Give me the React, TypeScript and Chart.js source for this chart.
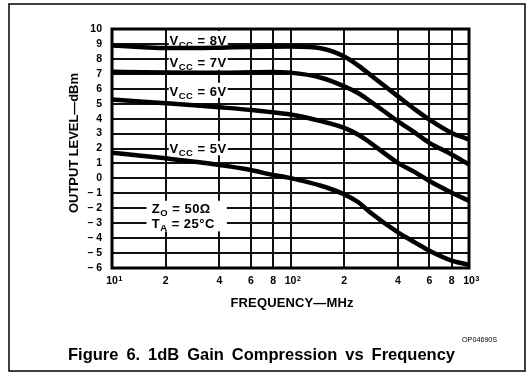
import React, { useEffect, useRef } from 'react';
import { Chart, registerables } from 'chart.js';

Chart.register(...registerables);

// ---- data ----
const freqMHz = [10, 15, 20, 30, 40, 60, 77, 100, 150, 200, 240, 280, 400, 500, 600, 800, 1000];
const vcc8 = [8.9, 8.78, 8.72, 8.72, 8.75, 8.8, 8.82, 8.83, 8.7, 8.16, 7.55, 6.93, 5.49, 4.6, 3.93, 3.04, 2.6];
const vcc7 = [7.14, 7.1, 7.08, 7.07, 7.07, 7.1, 7.12, 7.08, 6.72, 6.16, 5.7, 5.16, 3.82, 3.05, 2.38, 1.6, 0.93];
const vcc6 = [5.28, 5.13, 5.03, 4.88, 4.76, 4.58, 4.44, 4.28, 3.82, 3.38, 2.92, 2.38, 1.04, 0.4, -0.18, -0.96, -1.5];
const vcc5 = [1.72, 1.5, 1.34, 1.1, 0.9, 0.56, 0.27, 0.02, -0.51, -1.07, -1.6, -2.29, -3.62, -4.3, -4.84, -5.5, -5.78];

const xTickValues = [10, 20, 40, 60, 80, 100, 200, 400, 600, 800, 1000];
const xTickLabels = ['10', '2', '4', '6', '8', '10', '2', '4', '6', '8', '10'];
const xTickExponents = ['1', '', '', '', '', '2', '', '', '', '', '3'];
const yMin = -6;
const yMax = 10;

const xTitle = 'FREQUENCY\u2014MHz';
const yTitle = 'OUTPUT LEVEL\u2014dBm';
const caption = 'Figure 6. 1dB Gain Compression vs Frequency';
const partNo = 'OP04690S';

// in-plot annotations (frequency, level)
const curveLabels = [
  { f: 21, v: 9.26, main: 'V', sub: 'CC', rest: ' = 8V' },
  { f: 21, v: 7.78, main: 'V', sub: 'CC', rest: ' = 7V' },
  { f: 21, v: 5.85, main: 'V', sub: 'CC', rest: ' = 6V' },
  { f: 21, v: 2.0, main: 'V', sub: 'CC', rest: ' = 5V' },
  { f: 16.7, v: -2.0, main: 'Z', sub: 'O', rest: ' = 50\u03A9' },
  { f: 16.7, v: -3.0, main: 'T', sub: 'A', rest: ' = 25\u00B0C' },
];
const maskBoxes = [
  { f0: 20.8, f1: 44.5, v0: 9.87, v1: 7.27 },
  { f0: 20.8, f1: 44.5, v0: 6.4, v1: 5.4 },
  { f0: 20.8, f1: 44.5, v0: 2.5, v1: 1.55 },
  { f0: 15.6, f1: 44, v0: -1.5, v1: -3.55 },
];

const FONT = '"Liberation Sans", Arial, Helvetica, sans-serif';
const TICK_FONT_SIZE = 10.5;

function drawSubLabel(ctx: CanvasRenderingContext2D, x: number, yc: number, main: string, sub: string, rest: string) {
  const size = 13;
  const subSize = 9.5;
  ctx.save();
  ctx.fillStyle = '#000';
  ctx.textAlign = 'left';
  ctx.textBaseline = 'alphabetic';
  (ctx as any).letterSpacing = '0.5px';
  const base = yc + size * 0.36;
  ctx.font = `bold ${size}px ${FONT}`;
  ctx.fillText(main, x, base);
  let cx = x + ctx.measureText(main).width;
  ctx.font = `bold ${subSize}px ${FONT}`;
  ctx.fillText(sub, cx, base + 3);
  cx += ctx.measureText(sub).width;
  ctx.font = `bold ${size}px ${FONT}`;
  ctx.fillText(rest, cx, base);
  ctx.restore();
}

function fitLetters(ctx: CanvasRenderingContext2D, text: string, x: number, y: number, target: number) {
  (ctx as any).letterSpacing = '0px';
  const w = ctx.measureText(text).width;
  const sp = (target - w) / Math.max(1, text.length - 1);
  (ctx as any).letterSpacing = sp + 'px';
  ctx.fillText(text, x, y);
  (ctx as any).letterSpacing = '0px';
}

function fitWords(ctx: CanvasRenderingContext2D, text: string, x: number, y: number, target: number) {
  (ctx as any).wordSpacing = '0px';
  const w = ctx.measureText(text).width;
  const n = text.split(' ').length - 1;
  const sp = (target - w) / Math.max(1, n);
  (ctx as any).wordSpacing = sp + 'px';
  ctx.fillText(text, x, y);
  (ctx as any).wordSpacing = '0px';
}

const decorPlugin = {
  id: 'decor',
  beforeDatasetsDraw(chart: any) {
    const { ctx, scales } = chart;
    const xs = scales.x;
    const ys = scales.y;
    ctx.save();
    ctx.fillStyle = '#fff';
    for (const b of maskBoxes) {
      const x0 = xs.getPixelForValue(b.f0);
      const x1 = xs.getPixelForValue(b.f1);
      const y0 = ys.getPixelForValue(b.v0);
      const y1 = ys.getPixelForValue(b.v1);
      ctx.fillRect(x0, y0, x1 - x0, y1 - y0);
    }
    ctx.restore();
  },
  afterDatasetsDraw(chart: any) {
    const { ctx, scales, chartArea } = chart;
    const xs = scales.x;
    const ys = scales.y;
    ctx.save();
    ctx.strokeStyle = '#000';
    ctx.lineWidth = 3;
    ctx.strokeRect(chartArea.left, chartArea.top, chartArea.right - chartArea.left, chartArea.bottom - chartArea.top);
    ctx.restore();
    for (const l of curveLabels) {
      drawSubLabel(ctx, xs.getPixelForValue(l.f), ys.getPixelForValue(l.v), l.main, l.sub, l.rest);
    }
  },
  afterDraw(chart: any) {
    const { ctx, chartArea, scales } = chart;
    const xs = scales.x;
    ctx.save();
    ctx.fillStyle = '#000';
    // decade exponents on the x tick labels
    ctx.font = `bold ${TICK_FONT_SIZE}px ${FONT}`;
    const half = ctx.measureText('10').width / 2;
    ctx.font = `bold 7.5px ${FONT}`;
    ctx.textAlign = 'left';
    ctx.textBaseline = 'alphabetic';
    xTickValues.forEach((v, i) => {
      const e = xTickExponents[i];
      if (!e) return;
      const px = xs.getPixelForValue(v);
      ctx.fillText(e, px + half + 0.5, chartArea.bottom + 12.5);
    });
    // x title
    ctx.font = `bold 13px ${FONT}`;
    const cxMid = (chartArea.left + chartArea.right) / 2;
    fitLetters(ctx, xTitle, cxMid - 60, 307, 123);
    // y title
    ctx.save();
    ctx.translate(78, 213);
    ctx.rotate(-Math.PI / 2);
    ctx.font = `bold 13px ${FONT}`;
    fitLetters(ctx, yTitle, 0, 0, 140);
    ctx.restore();
    // part number
    ctx.font = `7.2px ${FONT}`;
    ctx.fillText(partNo, 462, 342);
    // caption
    ctx.font = `bold 16.5px ${FONT}`;
    fitWords(ctx, caption, 68, 360, 387);
    // outer frame
    ctx.strokeStyle = '#000';
    ctx.lineWidth = 1.5;
    ctx.strokeRect(9, 4, 516, 367);
    ctx.restore();
  },
};

function series(vals: number[]) {
  return freqMHz.map((f, i) => ({ x: f, y: vals[i] }));
}

export default function App() {
  const ref = useRef<HTMLCanvasElement | null>(null);
  useEffect(() => {
    if (!ref.current) return;
    const ds = (label: string, vals: number[]) => ({
      label,
      data: series(vals),
      borderColor: '#000',
      borderWidth: 4.5,
      pointRadius: 0,
      fill: false,
      cubicInterpolationMode: 'monotone' as const,
      borderCapStyle: 'round' as const,
    });
    const chart = new Chart(ref.current, {
      type: 'line',
      data: {
        datasets: [ds('VCC = 8V', vcc8), ds('VCC = 7V', vcc7), ds('VCC = 6V', vcc6), ds('VCC = 5V', vcc5)],
      },
      options: {
        animation: false,
        responsive: false,
        devicePixelRatio: 1,
        layout: { padding: { top: 29, right: 58, bottom: 0, left: 0 } },
        plugins: { legend: { display: false }, tooltip: { enabled: false }, title: { display: false } },
        scales: {
          x: {
            type: 'logarithmic',
            min: 10,
            max: 1000,
            afterBuildTicks: (s: any) => {
              s.ticks = xTickValues.map((v) => ({ value: v }));
            },
            afterFit: (s: any) => {
              s.height = 104;
            },
            ticks: {
              autoSkip: false,
              maxRotation: 0,
              minRotation: 0,
              padding: 7,
              color: '#000',
              font: { family: FONT, size: TICK_FONT_SIZE, weight: 'bold' },
              callback: (_v: any, i: number) => xTickLabels[i],
            },
            grid: { color: '#111', lineWidth: 2, drawTicks: false },
            border: { display: false },
          },
          y: {
            type: 'linear',
            min: yMin,
            max: yMax,
            afterFit: (s: any) => {
              s.width = 112;
            },
            ticks: {
              stepSize: 1,
              autoSkip: false,
              padding: 10,
              color: '#000',
              font: { family: FONT, size: TICK_FONT_SIZE, weight: 'bold' },
              callback: (v: any) => (Number(v) < 0 ? '\u2013 ' + Math.abs(Number(v)) : String(v)),
            },
            grid: { color: '#111', lineWidth: 2, drawTicks: false },
            border: { display: false },
          },
        },
      } as any,
      plugins: [decorPlugin],
    });
    return () => chart.destroy();
  }, []);
  return (
    <canvas
      ref={ref}
      width={527}
      height={372}
      style={{ position: 'absolute', left: 0, top: 0, width: 527, height: 372, background: '#fff' }}
    />
  );
}
